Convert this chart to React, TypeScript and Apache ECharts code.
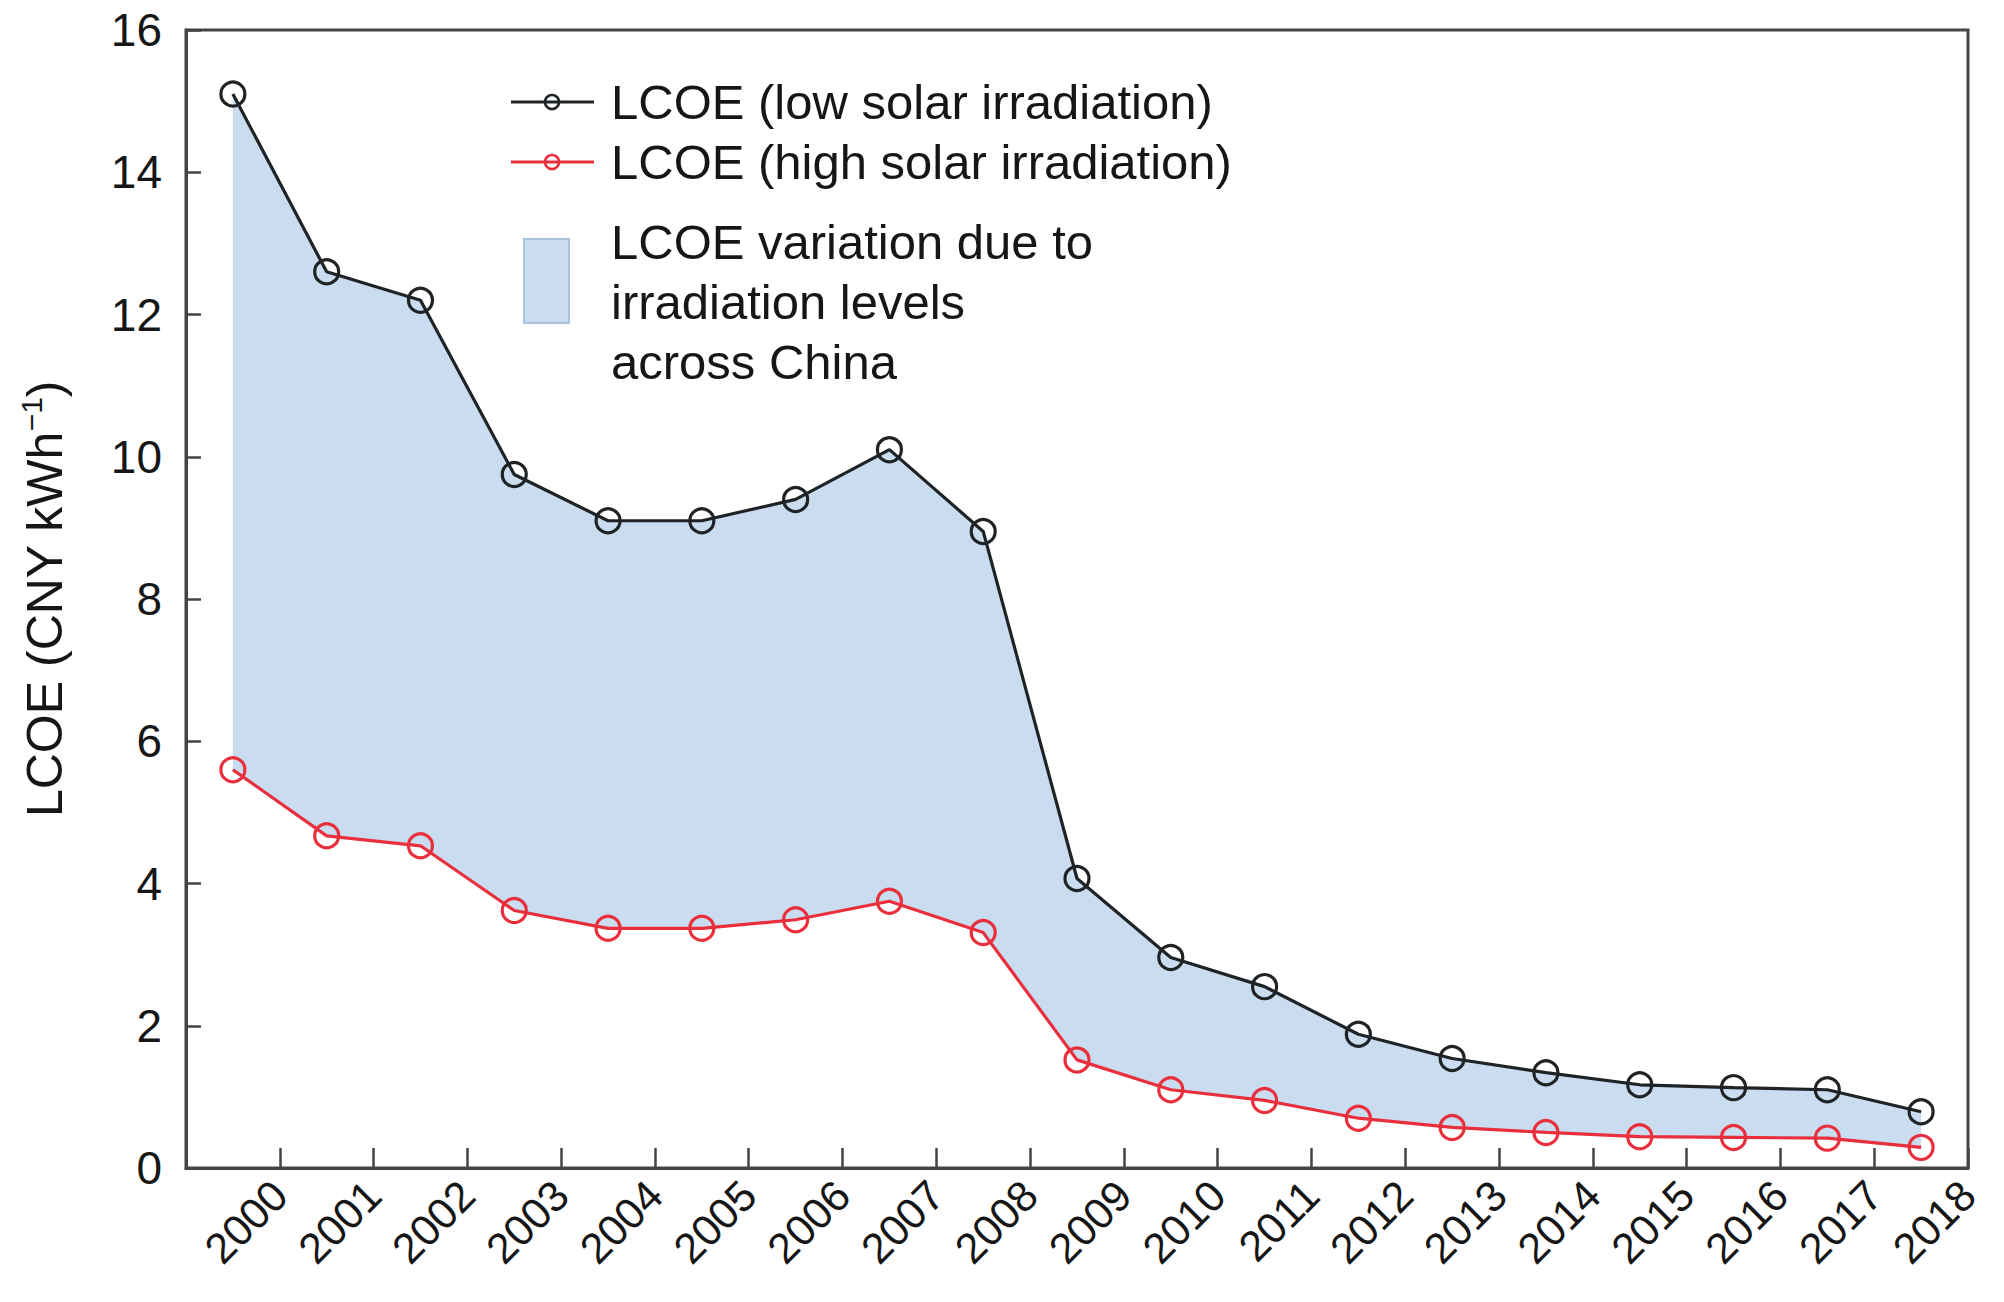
import React, { useEffect, useRef } from 'react';
import * as echarts from 'echarts';

const years = ['2000', '2001', '2002', '2003', '2004', '2005', '2006', '2007', '2008', '2009', '2010', '2011', '2012', '2013', '2014', '2015', '2016', '2017', '2018'];
// tick labels sit on the boundaries between the yearly bands
const boundaryLabels = ['', ...years];
const lowIrradiation = [15.1, 12.6, 12.2, 9.75, 9.1, 9.1, 9.4, 10.1, 8.95, 4.07, 2.96, 2.55, 1.88, 1.54, 1.34, 1.17, 1.13, 1.1, 0.79];
const highIrradiation = [5.6, 4.67, 4.53, 3.62, 3.37, 3.37, 3.49, 3.75, 3.31, 1.52, 1.1, 0.95, 0.7, 0.57, 0.5, 0.44, 0.43, 0.42, 0.29];

const FONT = '"Liberation Sans", Arial, Helvetica, sans-serif';
const BLACK = '#1f2326';
const RED = '#ea2f3c';
const FILL = '#c9dcf0';
const AXIS = '#444';
const TXT = '#161616';

export default function App() {
  const ref = useRef<HTMLDivElement>(null);
  useEffect(() => {
    if (!ref.current) return;
    const chart = echarts.init(ref.current, undefined, { renderer: 'svg' });
    const band = lowIrradiation.map((v, i) => +(v - highIrradiation[i]).toFixed(4));
    chart.setOption({
      animation: false,
      backgroundColor: '#fff',
      textStyle: { fontFamily: FONT },
      grid: { left: 186, right: 36, top: 30, bottom: 134, show: true, borderColor: AXIS, borderWidth: 3, backgroundColor: 'transparent' },
      xAxis: [
        {
          type: 'category',
          data: years,
          boundaryGap: true,
          position: 'bottom',
          axisLine: { show: false },
          axisTick: { show: false },
          axisLabel: { show: false },
          splitLine: { show: false },
        },
        {
          type: 'category',
          data: boundaryLabels,
          boundaryGap: false,
          position: 'bottom',
          axisLine: { show: true, lineStyle: { color: AXIS, width: 3 } },
          axisTick: { show: true, inside: true, length: 20, interval: 0, lineStyle: { color: AXIS, width: 2.5 } },
          axisLabel: { show: true, interval: 0, rotate: 45, margin: 20, fontSize: 43, color: TXT, fontFamily: FONT },
          splitLine: { show: false },
        },
      ],
      yAxis: {
        type: 'value',
        min: 0,
        max: 16,
        interval: 2,
        name: '{a|LCOE (CNY kWh}{s|−1}{a|)}',
        nameLocation: 'middle',
        nameRotate: 90,
        nameGap: 112,
        nameTextStyle: {
          rich: {
            a: { fontSize: 50, color: TXT, fontFamily: FONT, lineHeight: 58 },
            s: { fontSize: 30, color: TXT, fontFamily: FONT, verticalAlign: 'top', lineHeight: 58 },
          },
        },
        axisLine: { show: true, lineStyle: { color: AXIS, width: 3 } },
        axisTick: { show: true, inside: true, length: 15, lineStyle: { color: AXIS, width: 2.5 } },
        axisLabel: { fontSize: 46, color: TXT, margin: 24, fontFamily: FONT },
        splitLine: { show: false },
      },
      series: [
        {
          name: 'base',
          type: 'line',
          xAxisIndex: 0,
          stack: 'band',
          data: highIrradiation,
          symbol: 'none',
          lineStyle: { opacity: 0 },
          silent: true,
          z: 1,
        },
        {
          name: 'LCOE variation due to irradiation levels across China',
          type: 'line',
          xAxisIndex: 0,
          stack: 'band',
          data: band,
          symbol: 'none',
          lineStyle: { opacity: 0 },
          areaStyle: { color: FILL, opacity: 1 },
          silent: true,
          z: 1,
        },
        {
          name: 'LCOE (low solar irradiation)',
          type: 'line',
          xAxisIndex: 0,
          data: lowIrradiation,
          symbol: 'circle',
          symbolSize: 24,
          lineStyle: { color: BLACK, width: 3.2 },
          itemStyle: { color: 'transparent', borderColor: BLACK, borderWidth: 3.2 },
          z: 3,
        },
        {
          name: 'LCOE (high solar irradiation)',
          type: 'line',
          xAxisIndex: 0,
          data: highIrradiation,
          symbol: 'circle',
          symbolSize: 24,
          lineStyle: { color: RED, width: 3.2 },
          itemStyle: { color: 'transparent', borderColor: RED, borderWidth: 3.2 },
          z: 4,
        },
      ],
      graphic: [
        { type: 'line', shape: { x1: 511, y1: 102, x2: 594, y2: 102 }, style: { stroke: BLACK, lineWidth: 3 } },
        { type: 'circle', shape: { cx: 552, cy: 102, r: 7 }, style: { fill: 'transparent', stroke: BLACK, lineWidth: 2.5 } },
        { type: 'text', x: 611, y: 102, style: { text: 'LCOE (low solar irradiation)', fontSize: 49, fontFamily: FONT, fill: TXT, verticalAlign: 'middle', align: 'left' } },
        { type: 'line', shape: { x1: 511, y1: 162, x2: 594, y2: 162 }, style: { stroke: RED, lineWidth: 3 } },
        { type: 'circle', shape: { cx: 552, cy: 162, r: 7 }, style: { fill: 'transparent', stroke: RED, lineWidth: 2.5 } },
        { type: 'text', x: 611, y: 162, style: { text: 'LCOE (high solar irradiation)', fontSize: 49, fontFamily: FONT, fill: TXT, verticalAlign: 'middle', align: 'left' } },
        { type: 'rect', shape: { x: 524, y: 239, width: 45, height: 84 }, style: { fill: FILL, stroke: '#a9c2dc', lineWidth: 2 } },
        { type: 'text', x: 611, y: 212, style: { text: 'LCOE variation due to\nirradiation levels\nacross China', fontSize: 49, lineHeight: 60, fontFamily: FONT, fill: TXT, verticalAlign: 'top', align: 'left' } },
      ],
    });
    return () => chart.dispose();
  }, []);
  return <div ref={ref} style={{ position: 'fixed', left: 0, top: 0, width: 2004, height: 1302, background: '#fff' }} />;
}
